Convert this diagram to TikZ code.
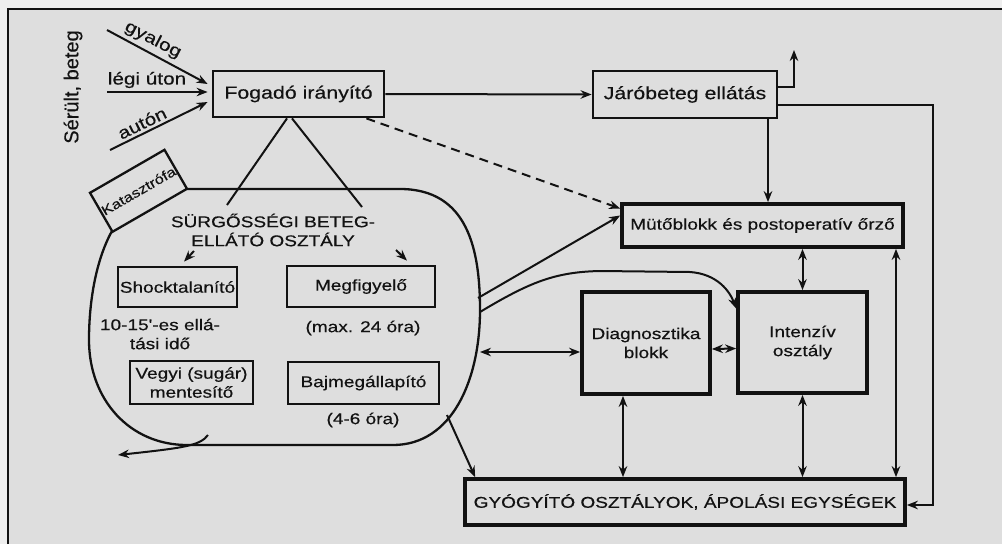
\documentclass[tikz,border=0pt]{standalone}
\usepackage{fontspec}
\setmainfont{Liberation Sans}
\newfontfamily\df{Liberation Sans}[FakeStretch=1.22,FakeBold=0.4]
\newfontfamily\dfn{Liberation Sans}[FakeBold=0.4]
\usetikzlibrary{arrows.meta}
\definecolor{bg}{RGB}{222,222,222}
\definecolor{outbg}{RGB}{238,238,238}
\definecolor{ink}{RGB}{18,18,18}
\begin{document}
\begin{tikzpicture}[x=1pt,y=-1pt,
  box/.style={draw=ink, line width=2.8pt, inner sep=0pt, text=ink, font=\df\fontsize{15.6}{19}\selectfont, align=center},
  heavybox/.style={box, line width=3.7pt},
  lbl/.style={inner sep=0pt, text=ink, font=\df\fontsize{15.6}{19}\selectfont, align=center},
  con/.style={draw=ink, line width=2pt},
  arr/.style={con, -{Stealth[length=11pt,width=8.5pt]}},
  darr/.style={con, {Stealth[length=11pt,width=8.5pt]}-{Stealth[length=11pt,width=8.5pt]}}]
\useasboundingbox (0,0) rectangle (1002,544);
\fill[outbg] (0,0) rectangle (1002,544);
\fill[bg] (8,9) rectangle (1002,544);
\draw[ink, line width=2.2pt] (8,544) -- (8,9) -- (1002,9);

% main boxes
\node[box, minimum width=171pt, minimum height=46pt, font=\df\fontsize{17.5}{20}\selectfont] (fog) at (298.5,94) {Fogadó irányító};
\node[box, minimum width=184pt, minimum height=47pt, font=\df\fontsize{17.5}{20}\selectfont] (jar) at (685,94.5) {Járóbeteg ellátás};
\node[heavybox, minimum width=281pt, minimum height=43pt] (muto) at (762.5,225.5) {Mütőblokk és postoperatív őrző};
\node[heavybox, minimum width=128pt, minimum height=102pt] (diag) at (646,343) {Diagnosztika\\blokk};
\node[heavybox, minimum width=129pt, minimum height=101pt] (int) at (802.5,342.5) {Intenzív\\osztály};
\node[heavybox, minimum width=440pt, minimum height=46pt] (gy) at (685,502) {GYÓGYÍTÓ OSZTÁLYOK, ÁPOLÁSI EGYSÉGEK};

% emergency department blob
\draw[ink, line width=2.3pt] (187,189) -- (400,189)
  .. controls (468,189) and (480,250) .. (480,310)
  .. controls (480,380) and (452,445) .. (393,445)
  -- (187,445)
  .. controls (130,445) and (89,400) .. (89,340)
  .. controls (89,298) and (97,258) .. (112,231);
\node[box, line width=2.3pt, rotate=30, minimum width=86pt, minimum height=45pt, font=\df\fontsize{13.5}{15}\selectfont] (kat) at (138.5,190.8) {Katasztrófa};

\node[lbl] (sbo) at (273,230) {SÜRGŐSSÉGI BETEG-\\ELLÁTÓ OSZTÁLY};
\node[box, minimum width=119pt, minimum height=40pt] (shock) at (177.5,287) {Shocktalanító};
\node[box, minimum width=148pt, minimum height=41pt] (megf) at (361,286.5) {Megfigyelő};
\node[box, minimum width=123pt, minimum height=43pt] (vegyi) at (191.5,382.5) {Vegyi (sugár)\\mentesítő};
\node[box, minimum width=151pt, minimum height=42pt] (bajm) at (363.5,383) {Bajmegállapító};
\node[lbl] (t1015) at (160,334) {10-15'-es ellá-\\tási idő};
\node[lbl] (tmax) at (363,328) {(max. 24 óra)};
\node[lbl] (t46) at (363,420) {(4-6 óra)};

% incoming labels
\node[inner sep=0pt, text=ink, font=\dfn\fontsize{20}{22}\selectfont, rotate=90] (ser) at (73,87) {Sérült, beteg};
\node[inner sep=0pt, text=ink, font=\df\fontsize{17}{20}\selectfont, rotate=-27.5] (lgy) at (153,40) {gyalog};
\node[inner sep=0pt, text=ink, font=\df\fontsize{17}{20}\selectfont] (llegi) at (147,80) {légi úton};
\node[inner sep=0pt, text=ink, font=\df\fontsize{17}{20}\selectfont, rotate=26] (laut) at (142,123) {autón};

% coordinates
\coordinate (g0) at (107,30);
\coordinate (l0) at (107,92);
\coordinate (a0) at (110,150);
\coordinate (up) at (794,50);
\coordinate (rx) at (933,105);
\coordinate (cx1) at (768,0);
\coordinate (cx2) at (896,0);
\coordinate (cx3) at (623,0);
\coordinate (fl1) at (227,205);
\coordinate (fl2) at (194,251);
\coordinate (fr1) at (362,207);
\coordinate (fr2) at (396,250);
\coordinate (sboA) at (478,298);
\coordinate (sboB) at (480,312);
\coordinate (sboC) at (480,352);
\coordinate (sboD) at (447,415);
\coordinate (sboE) at (208,435);
\coordinate (outL) at (118,455);

% incoming arrows
\draw[arr] (g0) -- ([xshift=-4pt,yshift=10pt]fog.west);
\draw[arr] (l0) -- ([xshift=-4pt,yshift=2pt]fog.west);
\draw[arr] (a0) -- ([xshift=-4pt,yshift=-8pt]fog.west);

% top connectors
\draw[arr] (fog.east) -- (jar.west);
\draw[arr] ([yshift=7.5pt]jar.east) -| (up);
\draw[arr] ([yshift=-10.5pt]jar.east) -- (rx) |- ([yshift=-3pt]gy.east);
\draw[arr] (jar.south -| cx1) -- (muto.north -| cx1);
\draw[arr, dash pattern=on 9pt off 6pt] ([xshift=-19pt]fog.south east) -- ([yshift=17pt]muto.west);

% Fogado to SBO units
\draw[con] ([xshift=-11.5pt]fog.south) -- (fl1);
\draw[arr] (fl2) -- ([xshift=6.5pt,yshift=4pt]shock.north);
\draw[con] ([xshift=-6.5pt]fog.south) -- (fr1);
\draw[arr] (fr2) -- ([xshift=46pt,yshift=4pt]megf.north);

% SBO connectors
\draw[arr] (sboA) -- ([yshift=10pt]muto.west);
\draw[arr] (sboB) .. controls (530,282) and (555,272) .. (600,271)
  -- (690,272) .. controls (718,274) and (730,292) .. ([yshift=34pt]int.west);
\draw[darr] (sboC) -- ([yshift=-9pt]diag.west);
\draw[arr] (sboD) -- ([xshift=12pt]gy.north west);
\draw[arr] (sboE) .. controls (200,446) and (182,448) .. (outL);

% right part
\draw[darr] ([yshift=-6pt]diag.east) -- ([yshift=-6pt]int.west);
\draw[darr] (muto.south -| int.north) -- (int.north);
\draw[darr] (muto.south -| cx2) -- (gy.north -| cx2);
\draw[darr] (diag.south -| cx3) -- (gy.north -| cx3);
\draw[darr] (int.south) -- (gy.north -| int.south);
\end{tikzpicture}
\end{document}
